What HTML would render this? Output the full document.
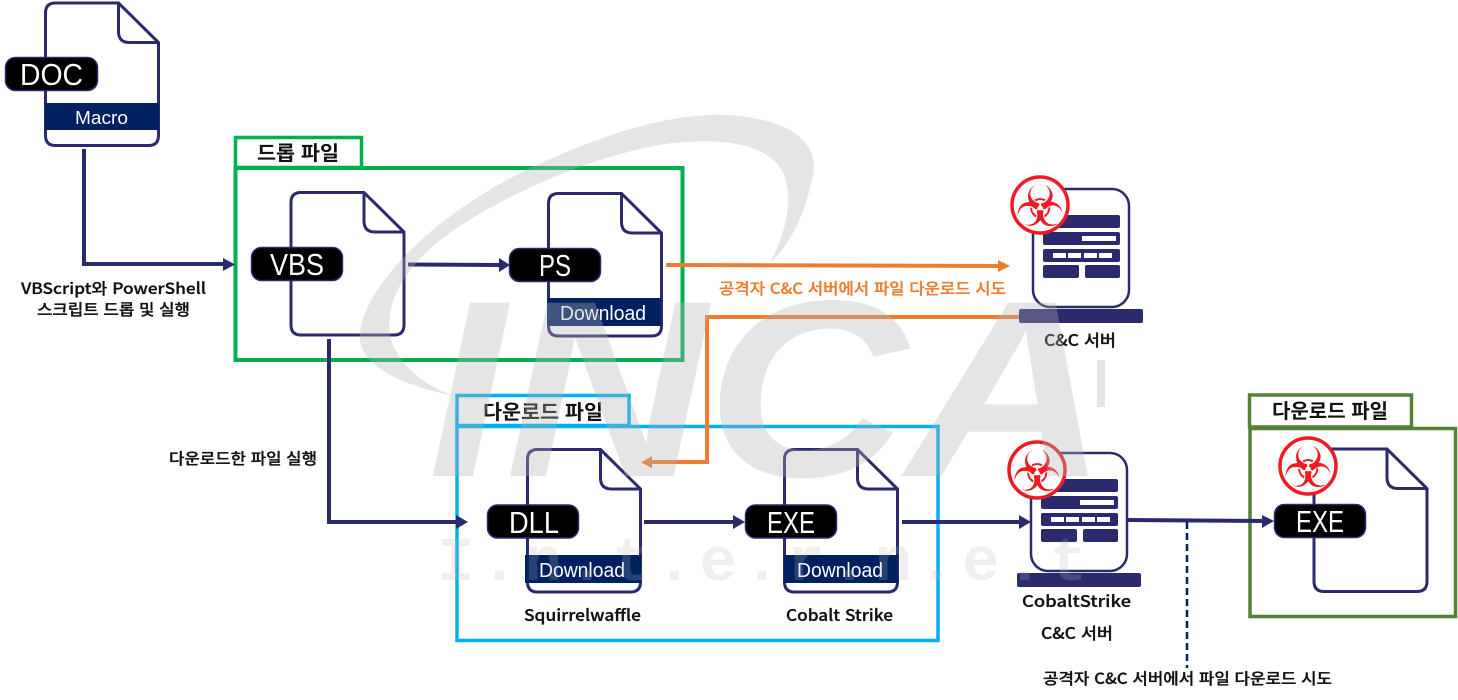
<!DOCTYPE html>
<html lang="ko"><head><meta charset="utf-8"><style>
html,body{margin:0;padding:0;background:#fff;width:1458px;height:700px;overflow:hidden}
svg{display:block}
.k{font-family:"Noto Sans CJK KR","Liberation Sans",sans-serif;font-weight:500;fill:#111;stroke:#111;stroke-width:.3px}
.o{fill:#ed7d31;stroke:#ed7d31}
.t{font-weight:700;stroke-width:0}
.p{font-family:"Liberation Sans","Noto Sans CJK KR",sans-serif;fill:#fff;font-size:31px}
.d{font-family:"Liberation Sans","Noto Sans CJK KR",sans-serif;fill:#fff;font-size:20px}
.bio{font-family:"DejaVu Sans",sans-serif;fill:#ed1c24;font-size:56px}
</style></head><body>
<svg width="1458" height="700" viewBox="0 0 1458 700" xmlns="http://www.w3.org/2000/svg">
<defs>
<g id="file"><path d="M11 1.5H74L114 41V134q0 10-10 10H11q-10 0-10-10V11.5q0-10 10-10Z" fill="#fff" stroke="#2b2a6e" stroke-width="3"/><path d="M74 1.5V30q0 11 11 11H114" fill="none" stroke="#2b2a6e" stroke-width="3"/></g>
<g id="srv"><rect x="1033" y="189" width="96" height="118" rx="17" fill="#fff" stroke="#2b2a6e" stroke-width="2.500"/>
<g fill="#2b2a6e"><rect x="1043" y="215" width="77" height="13" rx="2"/><rect x="1043" y="232" width="77" height="13" rx="2"/><rect x="1043" y="249" width="77" height="13" rx="2"/><rect x="1043" y="265" width="36" height="13" rx="2"/><rect x="1085" y="265" width="35" height="13" rx="2"/><rect x="1019" y="309" width="124" height="14" rx="2"/></g>
<g fill="#fff"><rect x="1082" y="236" width="34" height="5"/><rect x="1053" y="253" width="13" height="5"/><rect x="1068" y="253" width="13" height="5"/><rect x="1084" y="253" width="13" height="5"/><rect x="1099" y="253" width="13" height="5"/></g></g>
</defs>
<rect width="1458" height="700" fill="#fff"/>

<!-- boxes -->
<g fill="none" stroke-width="3.500">
<rect x="235.500" y="137.500" width="126" height="30" stroke="#00b050"/>
<rect x="235.500" y="168" width="447" height="192" stroke="#00b050" stroke-width="4"/>
<rect x="457" y="395.500" width="172" height="30" stroke="#00b0f0"/>
<rect x="457" y="426.500" width="481" height="214" stroke="#00b0f0"/>
<rect x="1249.500" y="395" width="162" height="32" stroke="#538135"/>
<rect x="1250" y="428.500" width="205.500" height="188" stroke="#538135"/>
</g>

<!-- files -->
<use href="#file" x="44.500" y="1.500"/>
<use href="#file" x="290" y="191"/>
<use href="#file" x="547.500" y="192"/>
<use href="#file" x="526.500" y="448"/>
<use href="#file" x="783.500" y="448"/>
<use href="#file" x="1313" y="447.500"/>
<g fill="#002060">
<rect x="45" y="103" width="114" height="27"/>
<rect x="547" y="298" width="114" height="28"/>
<rect x="525" y="555" width="116" height="28"/>
<rect x="784" y="555" width="114" height="28"/>
</g>
<text class="d" x="75" y="124" style="font-size:18px" textLength="53" lengthAdjust="spacingAndGlyphs">Macro</text>
<text class="d" x="560" y="320" textLength="86" lengthAdjust="spacingAndGlyphs">Download</text>
<text class="d" x="539" y="577" textLength="86" lengthAdjust="spacingAndGlyphs">Download</text>
<text class="d" x="797" y="577" textLength="86" lengthAdjust="spacingAndGlyphs">Download</text>

<!-- pills -->
<g fill="#000" stroke="#2b2a6e" stroke-width="1.500">
<rect x="5.500" y="57.500" width="92" height="33" rx="10"/>
<rect x="251.500" y="247.500" width="91" height="33" rx="10"/>
<rect x="509.500" y="248.500" width="91" height="33" rx="10"/>
<rect x="487.500" y="505" width="91" height="33" rx="10"/>
<rect x="745.500" y="505" width="91" height="33" rx="10"/>
<rect x="1274.500" y="504.500" width="91" height="33" rx="10"/>
</g>
<text class="p" x="20" y="85" textLength="63" lengthAdjust="spacingAndGlyphs">DOC</text>
<text class="p" x="270" y="275" textLength="54" lengthAdjust="spacingAndGlyphs">VBS</text>
<text class="p" x="539" y="276" textLength="32" lengthAdjust="spacingAndGlyphs">PS</text>
<text class="p" x="509" y="533" textLength="50" lengthAdjust="spacingAndGlyphs">DLL</text>
<text class="p" x="767" y="533" textLength="48" lengthAdjust="spacingAndGlyphs">EXE</text>
<text class="p" x="1296" y="532" textLength="48" lengthAdjust="spacingAndGlyphs">EXE</text>

<!-- servers -->
<use href="#srv"/>
<use href="#srv" x="-2" y="264"/>

<!-- connectors -->
<g fill="none" stroke="#2b2a6e" stroke-width="4">
<path d="M84 149V264H224"/>
<path d="M408 264.500L500 265"/>
<path d="M329 339V522H458"/>
<path d="M644 522H736"/>
<path d="M902 522H1022"/>
<path d="M1127 520L1265 521"/>
</g>
<g fill="#2b2a6e">
<path d="M223 258L235 264.500L223 271Z"/>
<path d="M499 258L510 265L499 272Z"/>
<path d="M456 515L468 522L456 529Z"/>
<path d="M733 515L745 522L733 529Z"/>
<path d="M1019 515L1031 522L1019 529Z"/>
<path d="M1262 515L1274 521L1262 528Z"/>
</g>
<path d="M1187 522V668" fill="none" stroke="#002060" stroke-width="2.500" stroke-dasharray="7 4"/>
<g fill="none" stroke="#ed7d31" stroke-width="4">
<path d="M666 265L1000 266"/>
<path d="M1019 317H707V462H650"/>
</g>
<g fill="#ed7d31">
<path d="M998 260L1010 266L998 272Z"/>
<path d="M652 456L641 462.500L652 468Z"/>
</g>

<!-- biohazard badges -->
<g fill="#fff" stroke="#ed1c24" stroke-width="3.500">
<circle cx="1040" cy="205" r="28"/>
<circle cx="1037" cy="470" r="28"/>
<circle cx="1308" cy="466" r="28"/>
</g>
<text class="bio" x="1040" y="226" text-anchor="middle">☣</text>
<text class="bio" x="1037" y="491" text-anchor="middle">☣</text>
<text class="bio" x="1308" y="487" text-anchor="middle">☣</text>

<!-- labels -->
<g class="k">
<text class="t" x="298" y="160" font-size="20" text-anchor="middle" textLength="82" lengthAdjust="spacingAndGlyphs">드롭 파일</text>
<text class="t" x="543" y="419" font-size="20" text-anchor="middle" textLength="120" lengthAdjust="spacingAndGlyphs">다운로드 파일</text>
<text class="t" x="1330" y="418" font-size="20" text-anchor="middle" textLength="116" lengthAdjust="spacingAndGlyphs">다운로드 파일</text>
<text x="21" y="294" font-size="15.500" textLength="185" lengthAdjust="spacingAndGlyphs">VBScript와 PowerShell</text>
<text x="37" y="315" font-size="15.500" textLength="153" lengthAdjust="spacingAndGlyphs">스크립트 드롭 및 실행</text>
<text x="169" y="464" font-size="15.500" textLength="148" lengthAdjust="spacingAndGlyphs">다운로드한 파일 실행</text>
<text x="524" y="621" font-size="16" textLength="117" lengthAdjust="spacingAndGlyphs">Squirrelwaffle</text>
<text x="786" y="621" font-size="16" textLength="107" lengthAdjust="spacingAndGlyphs">Cobalt Strike</text>
<text x="1044" y="346" font-size="16" textLength="72" lengthAdjust="spacingAndGlyphs">C&amp;C 서버</text>
<text x="1022" y="607" font-size="16" textLength="109" lengthAdjust="spacingAndGlyphs">CobaltStrike</text>
<text x="1041" y="639" font-size="16" textLength="72" lengthAdjust="spacingAndGlyphs">C&amp;C 서버</text>
<text x="1043" y="684" font-size="15.500" textLength="289" lengthAdjust="spacingAndGlyphs">공격자 C&amp;C 서버에서 파일 다운로드 시도</text>
<text class="o" x="719" y="294" font-size="15.500" textLength="287" lengthAdjust="spacingAndGlyphs">공격자 C&amp;C 서버에서 파일 다운로드 시도</text>
</g>

<!-- watermark overlay -->
<g fill="#b4b4b4" fill-opacity=".345">
<path d="M455 396C400 385 358 365 360 335C362 290 430 215 533 167C600 135 670 113 723 115C785 117 820 140 813 175C805 215 790 245 770 263C790 225 795 185 778 165C760 143 720 138 673 143C600 152 500 195 440 240C405 270 385 300 390 335C395 360 420 385 455 396Z"/>
<text x="428" y="476" font-family="Liberation Sans,sans-serif" font-weight="700" font-style="italic" font-size="252" textLength="680" lengthAdjust="spacingAndGlyphs">INCA</text>
<rect x="1097" y="360" width="8" height="47"/>
<text x="437" y="580" font-family="Liberation Mono,monospace" font-weight="700" font-size="62" textLength="650" lengthAdjust="spacing" fill-opacity=".22">I.n.t.e.r.n.e.t</text>
</g>
</svg>
</body></html>
